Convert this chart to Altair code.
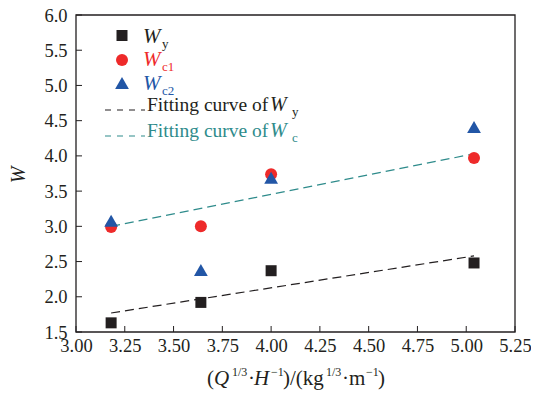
import altair as alt
import pandas as pd

# ---- data ----
x_vals = [3.18, 3.64, 4.00, 5.04]
wy = [1.63, 1.92, 2.37, 2.48]
wc1 = [2.99, 3.00, 3.74, 3.97]
wc2 = [3.08, 2.38, 3.69, 4.41]
fit_x = [3.18, 5.04]
fit_wy = [1.77, 2.58]
fit_wc = [3.00, 4.03]
x_ticks = [3.00, 3.25, 3.50, 3.75, 4.00, 4.25, 4.50, 4.75, 5.00, 5.25]
y_ticks = [1.5, 2.0, 2.5, 3.0, 3.5, 4.0, 4.5, 5.0, 5.5, 6.0]

BLACK = "#231f20"
RED = "#ee2a2a"
BLUE = "#2256a6"
TEAL = "#2e8b8b"
FONT = "Liberation Serif"
W, H = 439, 317
OX, OY = 76, 15  # plot origin on the page

xs = alt.Scale(domain=[3.0, 5.25], nice=False, zero=False)
ys = alt.Scale(domain=[1.5, 6.0], nice=False, zero=False)

pts = pd.DataFrame({"x": x_vals, "wy": wy, "wc1": wc1, "wc2": wc2})
fit = pd.DataFrame({"x": fit_x, "wy": fit_wy, "wc": fit_wc})

xaxis = alt.Axis(values=x_ticks, format=".2f", ticks=False, domain=False, grid=False,
                 labelFont=FONT, labelFontSize=18.5, labelColor=BLACK, labelPadding=4,
                 labelOverlap=False, labelFlush=False, title=None)
yaxis = alt.Axis(values=y_ticks, format=".1f", ticks=False, domain=False, grid=False,
                 labelFont=FONT, labelFontSize=18.5, labelColor=BLACK, labelPadding=9,
                 labelOverlap=False, labelFlush=False, title=None)

base = alt.Chart(pts)
sq = base.mark_point(shape="square", filled=True, size=121, color=BLACK, opacity=1).encode(
    x=alt.X("x:Q", scale=xs, axis=xaxis), y=alt.Y("wy:Q", scale=ys, axis=yaxis))
ci = base.mark_point(shape="circle", filled=True, size=144, color=RED, opacity=1).encode(
    x=alt.X("x:Q", scale=xs, axis=xaxis), y=alt.Y("wc1:Q", scale=ys, axis=yaxis))
tr = base.mark_point(shape="triangle-up", filled=True, size=190, color=BLUE, opacity=1).encode(
    x=alt.X("x:Q", scale=xs, axis=xaxis), y=alt.Y("wc2:Q", scale=ys, axis=yaxis))

fb = alt.Chart(fit)
l1 = fb.mark_line(color=BLACK, strokeDash=[9, 5], strokeWidth=1.2).encode(
    x=alt.X("x:Q", scale=xs, axis=xaxis), y=alt.Y("wy:Q", scale=ys, axis=yaxis))
l2 = fb.mark_line(color=TEAL, strokeDash=[9, 5], strokeWidth=1.2).encode(
    x=alt.X("x:Q", scale=xs, axis=xaxis), y=alt.Y("wc:Q", scale=ys, axis=yaxis))

# inward ticks
xt = alt.Chart(pd.DataFrame({"t": x_ticks})).mark_rule(color=BLACK, strokeWidth=1).encode(
    x=alt.X("t:Q", scale=xs, axis=xaxis), y=alt.value(H - 6), y2=alt.value(H))
yt = alt.Chart(pd.DataFrame({"t": y_ticks})).mark_rule(color=BLACK, strokeWidth=1).encode(
    y=alt.Y("t:Q", scale=ys, axis=yaxis), x=alt.value(0), x2=alt.value(6))

one = alt.Chart(pts).transform_filter("datum.x == 3.18")

# plot frame
frame = one.mark_rect(fill=None, fillOpacity=0, stroke=BLACK, strokeWidth=1.3).encode(
    x=alt.value(0), x2=alt.value(W), y=alt.value(0), y2=alt.value(H))

layers = [sq, l1, l2, ci, tr, xt, yt, frame]

# legend symbols (layout positions in page pixels)
for shape, col, sz, py in [("square", BLACK, 121, 35.5), ("circle", RED, 144, 60),
                           ("triangle-up", BLUE, 190, 83)]:
    layers.append(one.mark_point(
        shape=shape, filled=True, size=sz, color=col, opacity=1).encode(
        x=alt.value(122 - OX), y=alt.value(py - OY)))

for py, col in [(110, BLACK), (136, TEAL)]:
    layers.append(one.mark_rule(
        strokeDash=[6, 6], strokeWidth=1.2, color=col).encode(
        x=alt.value(105 - OX), x2=alt.value(145 - OX), y=alt.value(py - OY)))

# text pieces: text, x (left), baseline y, size, italic, colour
TB, SB = 385, 376
pieces = [
    ("W", 143, 43, 21, True, BLACK), ("y", 162, 48, 13, False, BLACK),
    ("W", 143, 66, 21, True, RED), ("c1", 162, 71, 13, False, RED),
    ("W", 143, 90, 21, True, BLUE), ("c2", 162, 95, 13, False, BLUE),
    ("Fitting curve of", 147, 111, 19.5, False, BLACK), ("W", 270, 111, 20, True, BLACK),
    ("y", 292, 116, 13, False, BLACK),
    ("Fitting curve of", 147, 137, 19.5, False, TEAL), ("W", 270, 137, 20, True, TEAL),
    ("c", 292, 142, 13, False, TEAL),
    # x-axis title
    ("(", 207, TB, 21, False, BLACK), ("Q", 214, TB, 21, True, BLACK),
    ("1/3", 232, SB, 12, False, BLACK), ("·", 248, TB, 21, False, BLACK),
    ("H", 254, TB, 21, True, BLACK), ("−1", 271, SB, 12, False, BLACK),
    (")/(kg", 283, TB, 21, False, BLACK), ("1/3", 326, SB, 12, False, BLACK),
    ("·m", 342, TB, 21, False, BLACK), ("−1", 366, SB, 12, False, BLACK),
    (")", 378, TB, 21, False, BLACK),
]
for t, px, py, fs, it, col in pieces:
    layers.append(one.mark_text(
        align="left", baseline="alphabetic", font=FONT,
        fontStyle="italic" if it else "normal", fontSize=fs, color=col, text=t).encode(
        x=alt.value(px - OX), y=alt.value(py - OY)))

layers.append(one.mark_text(
    font=FONT, fontStyle="italic", fontSize=20, angle=270, align="center",
    baseline="middle", color=BLACK, text="W").encode(
    x=alt.value(19 - OX), y=alt.value(175 - OY)))

chart = alt.layer(*layers).properties(
    width=W, height=H,
    autosize=alt.AutoSizeParams(type="none"),
    padding={"left": OX - 8, "top": OY - 8, "right": 523 - (OX - 8) - W,
             "bottom": 382 - (OY - 8) - H},
).configure(background="white").configure_view(
    stroke=None).configure_axis(labelOverlap=False)

chart.save("out.html", embed_options={"renderer": "svg", "actions": False})
